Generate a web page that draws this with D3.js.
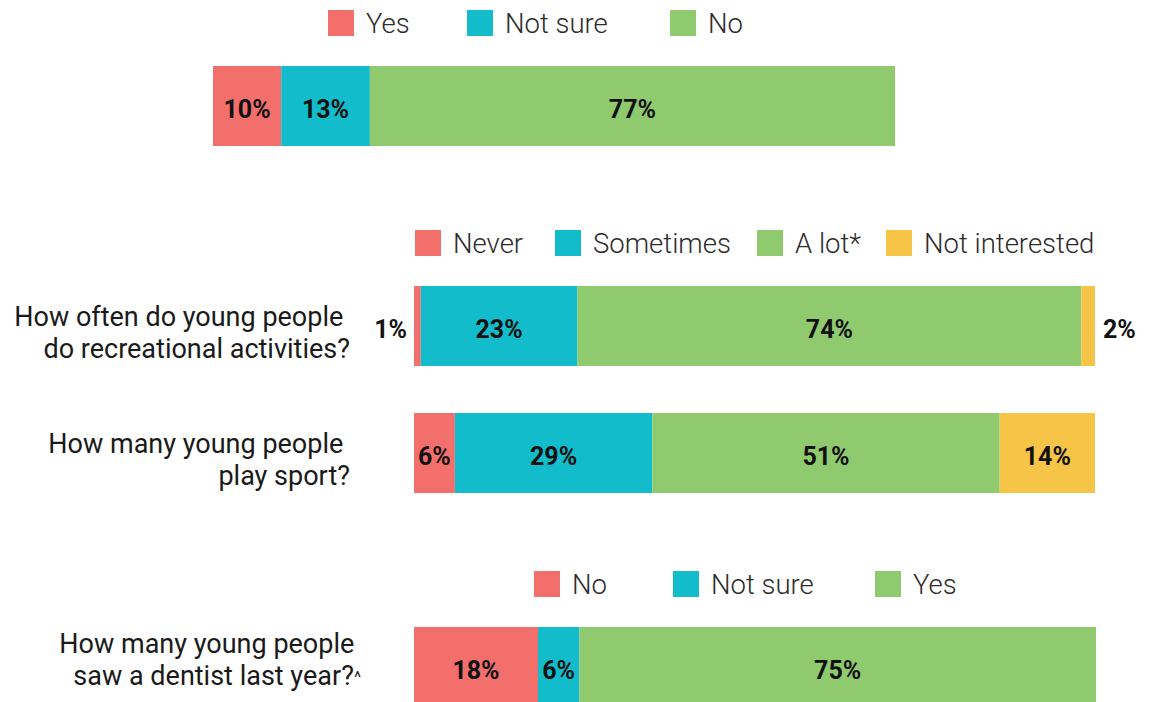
<!DOCTYPE html>
<html>
<head>
<meta charset="utf-8">
<script src="https://cdn.jsdelivr.net/npm/d3@7"></script>
<style>
  body { margin: 0; background: #fff; }
  svg { display: block; font-family: Roboto, "Noto Sans", sans-serif; }
</style>
</head>
<body>
<svg id="chart" width="1149" height="702"></svg>
<script>
// --- données ---
const accessCategories = ["Yes", "Not sure", "No"];
const accessValues = [10, 13, 77];

const activityCategories = ["Never", "Sometimes", "A lot*", "Not interested"];
const recreationValues = [1, 23, 74, 2];
const sportValues = [6, 29, 51, 14];

const dentistCategories = ["No", "Not sure", "Yes"];
const dentistValues = [18, 6, 75];

const recreationQuestion = ["How often do young people ", "do recreational activities?"];
const sportQuestion = ["How many young people ", "play sport?"];
const dentistQuestion = ["How many young people ", "saw a dentist last year?"];

const segmentColors = ["#f36f6b", "#12bccb", "#8fca6f", "#f6c548"];

// --- mise en page (positions seulement) ---
const panels = [
  {
    categories: accessCategories,
    rows: [{ key: "access", values: accessValues, question: null }],
    legendY: 10, legendX: [328, 467, 670],
    xRange: [213, 895], yRange: [66, 146], padding: 0,
    labelRight: 0, labelDy: 0
  },
  {
    categories: activityCategories,
    rows: [
      { key: "recreation", values: recreationValues, question: recreationQuestion },
      { key: "sport", values: sportValues, question: sportQuestion }
    ],
    legendY: 230, legendX: [415, 555, 757, 886],
    xRange: [414, 1095], yRange: [286, 493], padding: 47 / 127,
    labelRight: 350, labelDy: 0
  },
  {
    categories: dentistCategories,
    rows: [{ key: "dentist", values: dentistValues, question: dentistQuestion, caret: true }],
    legendY: 571, legendX: [534, 673, 875],
    xRange: [414, 1096], yRange: [627, 707], padding: 0,
    labelRight: 361, labelDy: -14
  }
];

const svg = d3.select("#chart");
const swatch = 26;

panels.forEach(panel => {
  const g = svg.append("g");

  // Légende
  const legend = g.append("g")
    .selectAll("g")
    .data(panel.categories)
    .enter()
    .append("g")
    .attr("transform", (d, i) => `translate(${panel.legendX[i]},${panel.legendY})`);

  legend.append("rect")
    .attr("width", swatch)
    .attr("height", swatch)
    .attr("fill", (d, i) => segmentColors[i]);

  legend.append("text")
    .attr("x", swatch + 12)
    .attr("y", swatch / 2 + 10)
    .attr("fill", "#2e2b2c")
    .style("font-size", "27.5px")
    .style("font-weight", "300")
    .text(d => d);

  // Échelles
  const y = d3.scaleBand()
    .domain(panel.rows.map(r => r.key))
    .range(panel.yRange)
    .paddingInner(panel.padding);

  panel.rows.forEach(row => {
    const x = d3.scaleLinear()
      .domain([0, d3.sum(row.values)])
      .range(panel.xRange);

    const ends = Array.from(d3.cumsum(row.values));
    const segs = row.values.map((v, i) => ({ v, i, start: ends[i] - v, end: ends[i] }));
    const top = y(row.key);
    const mid = top + y.bandwidth() / 2;

    g.append("g")
      .selectAll("rect")
      .data(segs)
      .enter()
      .append("rect")
      .attr("x", d => x(d.start))
      .attr("y", top)
      .attr("width", d => x(d.end) - x(d.start))
      .attr("height", y.bandwidth())
      .attr("fill", d => segmentColors[d.i]);

    // Étiquettes de valeurs (petits segments à l'extérieur)
    g.append("g")
      .selectAll("text")
      .data(segs)
      .enter()
      .append("text")
      .attr("x", d => {
        if (d.v < 3) return d.i === 0 ? x(d.start) - 7 : x(d.end) + 8;
        return (x(d.start) + x(d.end)) / 2;
      })
      .attr("y", mid + 12)
      .attr("text-anchor", d => d.v < 3 ? (d.i === 0 ? "end" : "start") : "middle")
      .attr("fill", "#111")
      .style("font-size", "25px")
      .style("font-weight", "700")
      .text(d => d.v + "%");

    // Question
    if (row.question) {
      const q = g.append("text")
        .attr("text-anchor", "end")
        .attr("fill", "#1a1a1a")
        .style("font-size", "27px")
        .style("white-space", "pre");
      row.question.forEach((line, li) => {
        q.append("tspan")
          .attr("x", panel.labelRight)
          .attr("y", mid + panel.labelDy + li * 32)
          .text(line);
        if (row.caret && li === row.question.length - 1) {
          q.append("tspan")
            .attr("dy", -2)
            .style("font-size", "17px")
            .text("^");
        }
      });
    }
  });
});
</script>
</body>
</html>
